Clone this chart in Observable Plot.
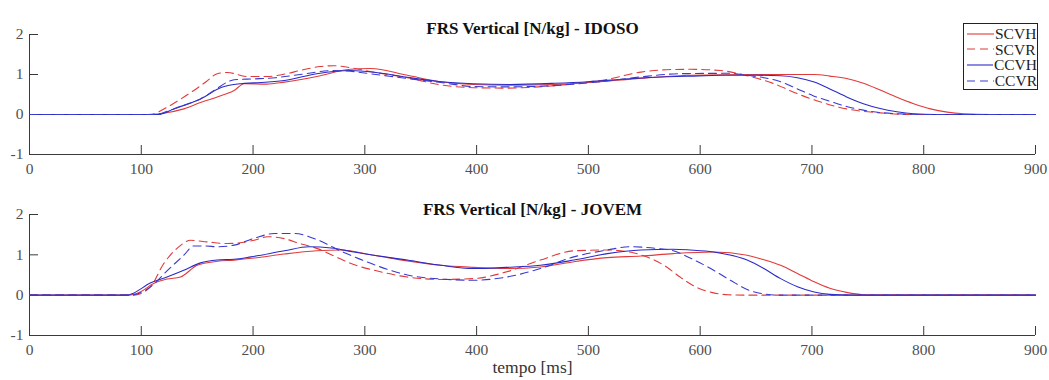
<!DOCTYPE html>
<html><head><meta charset="utf-8">
<script src="https://cdn.jsdelivr.net/npm/d3@7"></script>
<script src="https://cdn.jsdelivr.net/npm/@observablehq/plot@0.6"></script>
<style>
body{margin:0;background:#fff;}
#wrap{position:relative;width:1049px;height:380px;font-family:"Liberation Serif","Times New Roman",serif;}
#wrap svg{display:block;}
#legend{position:absolute;left:963px;top:23px;width:75px;height:67px;border:1px solid #222;background:#fff;box-sizing:border-box;padding-top:2px;}
#legend .row{display:flex;align-items:center;height:15.6px;font-size:15.5px;color:#222;line-height:15px;}
#legend svg{display:inline-block;margin-left:3px;margin-right:1px;}
</style></head>
<body><div id="wrap"><div id="charts"></div><div id="legend"></div></div>
<script>
// ---- data ----
const seriesNames = ["SCVH","SCVR","CCVH","CCVR"];
const seriesColors = ["#e23a3a","#e23a3a","#2a2ac8","#3a3acf"];
const seriesDash = [null,"8,5",null,"8,5"];
const xTicks = [0,100,200,300,400,500,600,700,800,900];
const yTicks = [-1,0,1,2];
const titleIdoso = "FRS Vertical [N/kg] - IDOSO";
const titleJovem = "FRS Vertical [N/kg] - JOVEM";
const xLabel = "tempo [ms]";

// IDOSO
const idosoT_SCVH = [0,105,117,138,153,168,183,192,212,228,257,287,305,338,368,397,430,470,500,550,591,650,702,716,731,746,761,776,791,806,821,836,860,900];
const idosoV_SCVH = [0,0,0.02,0.14,0.3,0.44,0.6,0.77,0.76,0.81,0.95,1.13,1.15,0.98,0.82,0.75,0.73,0.75,0.8,0.91,0.98,1.0,1.0,0.96,0.9,0.78,0.61,0.43,0.27,0.14,0.06,0.02,0,0];
const idosoT_SCVR = [0,108,123,135,147,158,168,177,195,212,230,242,260,272,287,310,338,368,397,427,460,487,517,547,570,591,618,642,666,687,708,731,761,790,900];
const idosoV_SCVR = [0,0,0.18,0.38,0.6,0.82,1.02,1.05,0.95,0.95,1.02,1.1,1.2,1.22,1.17,1.05,0.92,0.74,0.67,0.66,0.7,0.77,0.88,1.06,1.12,1.13,1.1,0.97,0.77,0.52,0.31,0.14,0.04,0,0];
const idosoT_CCVH = [0,115,129,153,172,189,201,228,257,287,310,338,368,397,430,470,500,530,560,591,620,650,672,687,702,716,731,746,761,776,791,810,900];
const idosoV_CCVH = [0,0,0.14,0.39,0.68,0.77,0.79,0.85,1.02,1.1,1.05,0.93,0.82,0.77,0.75,0.78,0.82,0.88,0.93,0.96,0.98,0.98,0.97,0.92,0.81,0.64,0.44,0.27,0.15,0.07,0.02,0,0];
const idosoT_CCVR = [0,112,125,140,153,165,177,183,201,220,242,272,287,310,338,368,397,427,460,487,517,547,582,627,642,657,672,687,701,716,731,746,761,776,800,900];
const idosoV_CCVR = [0,0,0.1,0.25,0.39,0.6,0.81,0.87,0.89,0.92,1.0,1.1,1.08,1.0,0.9,0.8,0.7,0.69,0.71,0.76,0.84,0.94,1.02,1.03,0.98,0.92,0.82,0.64,0.47,0.33,0.2,0.11,0.05,0.02,0,0];

// JOVEM
const jovemT_SCVH = [0,88,99,111,123,135,150,168,183,201,228,257,278,308,338,368,397,427,457,487,517,547,576,612,642,657,672,687,702,716,731,746,757,900];
const jovemV_SCVH = [0,0,0.08,0.29,0.4,0.45,0.74,0.84,0.87,0.92,1.02,1.1,1.12,0.99,0.85,0.74,0.69,0.66,0.7,0.83,0.93,0.97,1.03,1.07,0.99,0.88,0.74,0.54,0.33,0.17,0.07,0.01,0,0];
const jovemT_SCVR = [0,93,108,120,132,144,159,177,201,213,228,242,257,278,290,308,338,368,397,427,457,487,517,540,555,570,582,595,610,625,640,900];
const jovemV_SCVR = [0,0,0.2,0.78,1.16,1.36,1.32,1.28,1.36,1.45,1.4,1.28,1.16,0.9,0.76,0.62,0.45,0.39,0.41,0.58,0.87,1.1,1.12,1.05,0.92,0.7,0.45,0.22,0.07,0.01,0,0];
const jovemT_CCVH = [0,88,93,108,123,138,153,168,183,198,228,250,270,290,308,338,368,397,427,457,487,517,547,576,591,612,642,657,672,687,702,716,735,900];
const jovemV_CCVH = [0,0,0.05,0.3,0.45,0.62,0.8,0.87,0.89,0.95,1.1,1.2,1.17,1.07,0.99,0.87,0.74,0.66,0.69,0.74,0.87,1.03,1.12,1.14,1.12,1.07,0.87,0.66,0.41,0.21,0.08,0.02,0,0];
const jovemT_CCVR = [0,90,108,123,138,147,158,168,183,201,219,237,257,278,295,308,338,368,397,427,457,487,517,537,561,576,591,612,627,642,657,672,900];
const jovemV_CCVR = [0,0,0.2,0.6,0.99,1.22,1.22,1.2,1.24,1.41,1.53,1.53,1.38,1.1,0.9,0.76,0.5,0.4,0.37,0.45,0.66,0.95,1.12,1.2,1.16,1.1,0.92,0.62,0.37,0.14,0.03,0,0];

// ---- build ----
function rows(T, V, s){ return T.map((t,i)=>({t, v:V[i], s})); }
const idoso = [rows(idosoT_SCVH,idosoV_SCVH,"SCVH"),rows(idosoT_SCVR,idosoV_SCVR,"SCVR"),rows(idosoT_CCVH,idosoV_CCVH,"CCVH"),rows(idosoT_CCVR,idosoV_CCVR,"CCVR")];
const jovem = [rows(jovemT_SCVH,jovemV_SCVH,"SCVH"),rows(jovemT_SCVR,jovemV_SCVR,"SCVR"),rows(jovemT_CCVH,jovemV_CCVH,"CCVH"),rows(jovemT_CCVR,jovemV_CCVR,"CCVR")];

const axisColor = "#3a3a3a";
const W = 1049, ML = 29, MR = 14;
const FONT = '"Liberation Serif","Times New Roman",serif';

function panel(title, data, o){
  const frameH = o.height - o.mt - o.mb, frameW = W - ML - MR;
  const marks = [
    Plot.ruleX([0], {stroke: axisColor}),
    Plot.ruleY([-1], {stroke: axisColor}),
    Plot.tickX(xTicks.filter(d=>d>0), {stroke: axisColor, insetTop: frameH - 9}),
    Plot.tickY(yTicks.filter(d=>d>-1), {stroke: axisColor, insetRight: frameW - 9}),
    Plot.axisX({ticks: xTicks, tickSize: 0, tickPadding: 8, label: null, fill: "#505050", fontSize: 15.5, tickFormat: d=>String(d)}),
    Plot.axisY({ticks: yTicks, tickSize: 0, tickPadding: 6, label: null, fill: "#505050", fontSize: 15.5, tickFormat: d=>String(d)}),
  ];
  data.forEach((r,i)=>{
    marks.push(Plot.line(r, {x:"t", y:"v", stroke: seriesColors[i], strokeWidth: 1.1, strokeDasharray: seriesDash[i], curve: "monotone-x"}));
  });
  marks.push(Plot.text([title], {text: d=>d, frameAnchor: "top", dy: o.titleDy, fontWeight: "bold", fontSize: 17, fontFamily: FONT, fill: "#111"}));
  if (o.xlabel) marks.push(Plot.text([o.xlabel], {text: d=>d, frameAnchor: "bottom", dy: o.xlabelDy, fontSize: 17.5, fontFamily: FONT, fill: "#333"}));
  return Plot.plot({
    width: W, height: o.height, marginLeft: ML, marginRight: MR, marginTop: o.mt, marginBottom: o.mb,
    x: {domain: [0,900]}, y: {domain: [-1,2]},
    style: {fontFamily: FONT, fontSize: "15.5px", background: "transparent", overflow: "visible"},
    marks
  });
}

const charts = document.getElementById("charts");
charts.appendChild(panel(titleIdoso, idoso, {height: 190, mt: 34, mb: 36, titleDy: -13}));
charts.appendChild(panel(titleJovem, jovem, {height: 190, mt: 24, mb: 45, titleDy: -12, xlabel: xLabel, xlabelDy: 37}));

// legend
const lg = document.getElementById("legend");
seriesNames.forEach((n,i)=>{
  const row = document.createElement("div"); row.className = "row";
  const svg = d3.create("svg").attr("width", 27).attr("height", 6);
  svg.append("line").attr("x1",0).attr("x2",27).attr("y1",3).attr("y2",3)
    .attr("stroke", seriesColors[i]).attr("stroke-width",1.1).attr("stroke-dasharray", seriesDash[i]);
  row.appendChild(svg.node());
  const sp = document.createElement("span"); sp.textContent = n; row.appendChild(sp);
  lg.appendChild(row);
});
</script></body></html>
